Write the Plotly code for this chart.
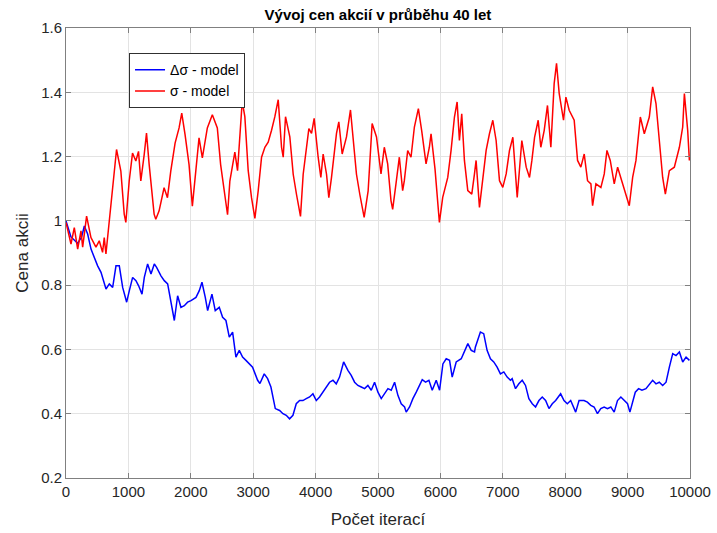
import plotly.graph_objects as go

# sigma model (red)
red_x = [0,80,133,187,240,267,330,400,480,533,586,613,640,693,746,810,879,933,959,1013,1066,1119,
         1162,1199,1253,1290,1333,1412,1439,1492,1572,1626,1679,1748,1812,1855,1908,1972,2025,2079,
         2132,2185,2265,2345,2425,2478,2546,2589,2626,2706,2749,2786,2824,2866,2920,2973,3027,3080,
         3134,3187,3240,3294,3347,3401,3454,3481,3518,3587,3641,3694,3758,3801,3854,3892,3935,3977,
         4041,4084,4121,4175,4212,4255,4335,4372,4426,4495,4559,4602,4655,4709,4778,4842,4906,4976,
         5048,5101,5155,5208,5235,5288,5342,5395,5422,5476,5529,5583,5647,5700,5770,5823,5850,5914,
         5984,6037,6118,6171,6225,6268,6305,6342,6385,6439,6503,6546,6572,6626,6679,6733,6786,6840,
         6893,6947,7000,7054,7107,7161,7231,7305,7375,7428,7466,7509,7567,7609,7663,7716,7770,7823,
         7861,7904,7973,8011,8064,8118,8144,8198,8251,8305,8358,8412,8439,8492,8572,8626,8669,8722,
         8786,8840,8920,8974,9027,9081,9134,9204,9268,9348,9402,9455,9509,9562,9605,9669,9749,9830,
         9883,9910,9963,9990]
red_y = [0.995,0.928,0.979,0.912,0.969,0.918,1.015,0.948,0.918,0.938,0.902,0.948,0.897,1.0,1.103,1.222,
         1.155,1.021,0.995,1.124,1.211,1.186,1.216,1.124,1.206,1.273,1.175,1.021,1.005,1.031,1.103,1.072,
         1.155,1.242,1.289,1.335,1.268,1.175,1.046,1.165,1.258,1.196,1.289,1.330,1.289,1.175,1.082,1.019,
         1.124,1.214,1.156,1.282,1.372,1.324,1.156,1.072,1.008,1.093,1.198,1.229,1.245,1.282,1.324,1.377,
         1.229,1.198,1.324,1.261,1.145,1.082,1.014,1.145,1.229,1.287,1.272,1.319,1.198,1.135,1.208,1.145,
         1.072,1.135,1.272,1.308,1.208,1.261,1.345,1.251,1.145,1.082,1.011,1.093,1.303,1.261,1.146,1.229,
         1.177,1.063,1.036,1.115,1.198,1.094,1.125,1.219,1.198,1.292,1.349,1.281,1.177,1.229,1.271,1.161,
         0.995,1.073,1.135,1.219,1.323,1.370,1.250,1.333,1.188,1.094,1.083,1.146,1.188,1.042,1.135,1.219,
         1.271,1.313,1.250,1.125,1.104,1.146,1.219,1.260,1.073,1.250,1.167,1.135,1.188,1.260,1.313,1.229,
         1.281,1.359,1.229,1.427,1.490,1.396,1.313,1.385,1.344,1.323,1.313,1.188,1.167,1.208,1.125,1.115,
         1.047,1.115,1.104,1.146,1.219,1.188,1.115,1.167,1.115,1.083,1.047,1.135,1.188,1.323,1.271,1.323,
         1.417,1.365,1.250,1.135,1.083,1.156,1.167,1.229,1.292,1.396,1.281,1.188]

# delta sigma model (blue)
blue_x = [0,80,187,250,294,347,401,454,507,561,614,641,694,748,801,854,908,972,1015,1068,1121,1164,
          1218,1255,1308,1362,1415,1452,1522,1575,1629,1682,1736,1789,1842,1896,1949,2003,2083,2136,
          2179,2232,2270,2339,2392,2456,2510,2563,2617,2670,2723,2777,2830,2884,2937,2990,3071,3108,
          3177,3231,3284,3354,3423,3477,3530,3583,3637,3690,3744,3797,3850,3904,3957,4011,4064,4117,
          4171,4224,4278,4331,4384,4449,4518,4571,4625,4678,4732,4785,4838,4892,4945,4999,5052,5105,
          5159,5212,5266,5319,5372,5426,5452,5506,5559,5613,5666,5709,5762,5816,5869,5933,5987,6040,
          6093,6147,6189,6253,6334,6387,6440,6494,6547,6560,6614,6641,6694,6748,6802,6855,6909,6962,
          7016,7070,7123,7150,7204,7257,7311,7364,7418,7472,7525,7579,7632,7686,7740,7793,7847,7927,
          7981,8034,8088,8168,8222,8302,8356,8410,8463,8517,8570,8624,8678,8731,8785,8838,8892,8946,
          8999,9037,9080,9123,9176,9230,9294,9348,9401,9455,9508,9562,9616,9669,9723,9776,9830,9883,
          9937,9991]
blue_y = [1.0,0.95,0.93,0.95,0.984,0.959,0.912,0.886,0.860,0.840,0.809,0.788,0.804,0.793,0.860,0.860,
          0.793,0.747,0.783,0.824,0.814,0.798,0.772,0.824,0.866,0.835,0.866,0.855,0.829,0.814,0.804,0.752,
          0.690,0.767,0.731,0.736,0.747,0.752,0.762,0.783,0.809,0.762,0.721,0.772,0.721,0.731,0.700,0.690,
          0.638,0.654,0.576,0.597,0.576,0.566,0.555,0.545,0.504,0.494,0.524,0.509,0.483,0.416,0.410,0.400,
          0.395,0.384,0.395,0.431,0.441,0.441,0.447,0.452,0.462,0.441,0.452,0.467,0.483,0.498,0.504,0.493,
          0.514,0.561,0.535,0.519,0.498,0.488,0.483,0.478,0.488,0.473,0.498,0.467,0.447,0.462,0.478,0.473,
          0.498,0.457,0.431,0.421,0.405,0.421,0.447,0.467,0.488,0.506,0.498,0.504,0.473,0.504,0.473,0.555,
          0.571,0.566,0.514,0.561,0.571,0.597,0.618,0.597,0.592,0.607,0.638,0.654,0.649,0.597,0.571,0.561,
          0.545,0.524,0.530,0.514,0.504,0.509,0.478,0.493,0.504,0.488,0.447,0.431,0.421,0.441,0.452,0.441,
          0.416,0.431,0.441,0.462,0.441,0.431,0.441,0.405,0.441,0.441,0.436,0.426,0.421,0.400,0.416,0.421,
          0.416,0.421,0.405,0.441,0.452,0.441,0.431,0.405,0.441,0.467,0.478,0.473,0.478,0.493,0.504,0.493,
          0.498,0.488,0.498,0.545,0.587,0.581,0.592,0.561,0.576,0.566]

x_ticks = [0,1000,2000,3000,4000,5000,6000,7000,8000,9000,10000]
x_labels = ["0","1000","2000","3000","4000","5000","6000","7000","8000","9000","10000"]
y_ticks = [0.2,0.4,0.6,0.8,1.0,1.2,1.4,1.6]
y_labels = ["0.2","0.4","0.6","0.8","1","1.2","1.4","1.6"]

FONT = "Liberation Sans, Arial, sans-serif"

fig = go.Figure()
fig.add_trace(go.Scatter(x=blue_x, y=blue_y, mode="lines", name="Δσ - model",
                         line=dict(color="#0000ff", width=1.5)))
fig.add_trace(go.Scatter(x=red_x, y=red_y, mode="lines", name="σ - model",
                         line=dict(color="#ff0000", width=1.5)))

axis_common = dict(showline=True, linecolor="#808080", linewidth=1, mirror="allticks",
                   ticks="inside", ticklen=5, tickcolor="#808080", automargin=False,
                   showgrid=True, gridcolor="#e3e3e3", gridwidth=1, zeroline=False,
                   tickfont=dict(family=FONT, size=15, color="#262626"))

fig.update_xaxes(range=[0, 10000], tickvals=x_ticks, ticktext=x_labels,
                 title=dict(text="Počet iterací", font=dict(family=FONT, size=17, color="#262626"),
                            standoff=14), **axis_common)
fig.update_yaxes(range=[0.2, 1.6], tickvals=y_ticks, ticktext=y_labels,
                 title=dict(text="Cena akcii", font=dict(family=FONT, size=17, color="#262626"),
                            standoff=8), **axis_common)

fig.update_layout(
    width=717, height=533,
    margin=dict(l=66, r=27, t=28, b=55),
    paper_bgcolor="white", plot_bgcolor="white",
    title=dict(text="<b>Vývoj cen akcií v průběhu 40 let</b>", xref="paper", x=0.5, xanchor="center",
               yref="container", y=0.973, yanchor="middle",
               font=dict(family=FONT, size=15, color="#000000")),
    showlegend=True,
    legend=dict(x=0.101, y=0.944, xanchor="left", yanchor="top", bgcolor="white",
                bordercolor="#303030", borderwidth=1,
                font=dict(family=FONT, size=14, color="#000000"),
                tracegroupgap=0, itemwidth=30),
)

fig.write_html("out.html", config={"displayModeBar": False},
               post_script="document.body.style.margin='0';")
